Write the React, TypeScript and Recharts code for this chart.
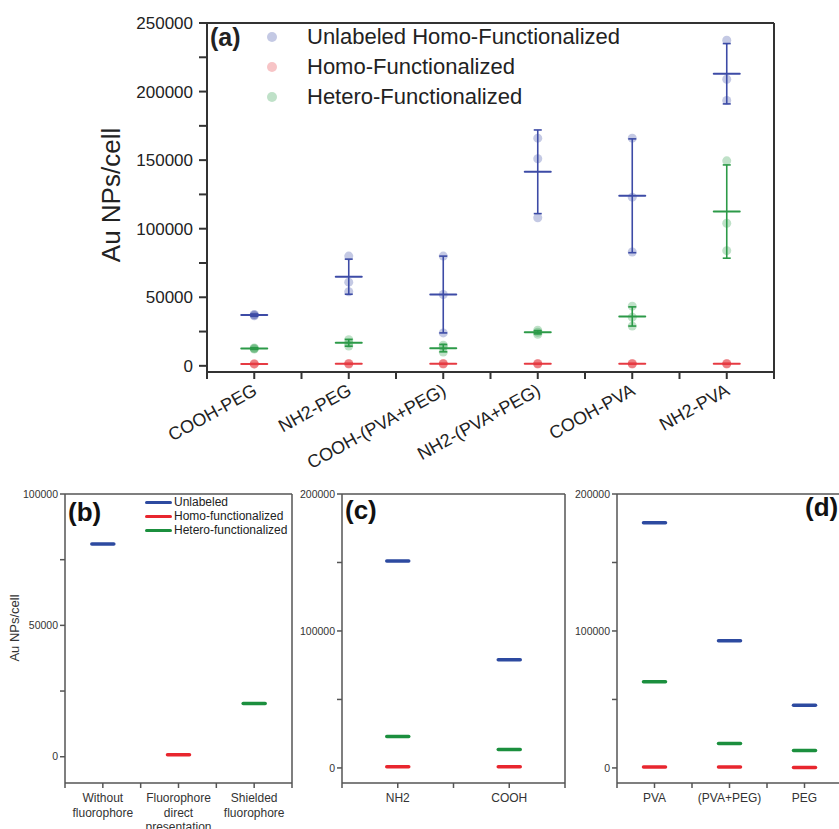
import React from "react";
import { ComposedChart, Scatter, XAxis, YAxis, ErrorBar, ReferenceLine } from "recharts";

const FONT = "'Liberation Sans', Arial, Helvetica, sans-serif";

// ── (a) uptake per coating: mean ± SD plus replicates ─────────
const coatings = ["COOH-PEG", "NH2-PEG", "COOH-(PVA+PEG)", "NH2-(PVA+PEG)", "COOH-PVA", "NH2-PVA"];

const unlabeledMean = [37000, 65000, 52000, 141500, 124000, 213000];
const unlabeledSd = [800, 12800, 28000, 30500, 41500, 22000];
const unlabeledReps = [
  [36500, 37000, 37500], [80000, 61000, 54000], [80000, 52000, 24000],
  [166000, 151000, 108000], [166000, 123000, 83000], [237500, 209000, 193500],
];

const homoMean = [1400, 1500, 1500, 1500, 1500, 1500];
const homoSd = [300, 300, 300, 300, 300, 300];
const homoReps = [
  [1200, 1400, 1600], [1300, 1500, 1700], [1300, 1500, 1700],
  [1300, 1500, 1700], [1300, 1500, 1700], [1300, 1500, 1700],
];

const heteroMean = [12600, 16800, 12900, 24500, 36000, 112500];
const heteroSd = [600, 2500, 2700, 1200, 7000, 34000];
const heteroReps = [
  [12200, 12600, 13000], [19000, 16500, 14500], [15000, 13500, 10000],
  [26000, 24500, 23000], [43500, 35500, 29000], [149500, 104000, 84000],
];

const yTicksA = [0, 25000, 50000, 75000, 100000, 125000, 150000, 175000, 200000, 225000, 250000];

// ── (b) fluorophore presentation ──────────────────────────────
const fluoroCats = [["Without", "fluorophore"], ["Fluorophore", "direct", "presentation"], ["Shielded", "fluorophore"]];
const fluoroUnlabeled = [81000, null, null];
const fluoroHomo = [null, 800, null];
const fluoroHetero = [null, null, 20300];

// ── (c) surface chemistry ─────────────────────────────────────
const chemCats = [["NH2"], ["COOH"]];
const chemUnlabeled = [151000, 79000];
const chemHomo = [900, 900];
const chemHetero = [23000, 13500];

// ── (d) polymer ───────────────────────────────────────────────
const polyCats = [["PVA"], ["(PVA+PEG)"], ["PEG"]];
const polyUnlabeled = [179000, 92800, 45700];
const polyHomo = [700, 600, 300];
const polyHetero = [62900, 17800, 12700];

const BLUE = "#3d4ba6";
const RED = "#e63a42";
const GREEN = "#2c9a48";
const BLUE2 = "#2d4aa0";
const RED2 = "#e8262e";
const GREEN2 = "#1b8f3e";

type Pt = { x: number; y: number; err?: number };

const toMeans = (mean: number[], sd: number[]): Pt[] => mean.map((y, i) => ({ x: i, y, err: sd[i] }));
const toReps = (reps: number[][]): Pt[] => reps.flatMap((vals, i) => vals.map((y) => ({ x: i, y })));
const toSingle = (vals: (number | null)[]): Pt[] =>
  vals.flatMap((y, i) => (y == null ? [] : [{ x: i, y }]));

const halfSteps = (n: number) => Array.from({ length: 2 * n + 1 }, (_, k) => -0.5 + k * 0.5);

const meanLine = (color: string, half: number, w: number) => (p: any) => (
  <line x1={p.cx - half} x2={p.cx + half} y1={p.cy} y2={p.cy} stroke={color} strokeWidth={w} strokeLinecap="round" />
);
const repDot = (color: string) => (p: any) => (
  <circle cx={p.cx} cy={p.cy} r={4.5} fill={color} fillOpacity={0.3} />
);

const CoatingTick = (p: any) => {
  const v = p.payload.value;
  if (!Number.isInteger(v)) return <g />;
  const x = p.x + 4;
  const y = p.y + 13;
  return (
    <text x={x} y={y} transform={`rotate(-29 ${x} ${y})`} textAnchor="end" fontSize={18} fill="#222" fontFamily={FONT}>
      {coatings[v]}
    </text>
  );
};

const stackedTick = (labels: string[][]) => (p: any) => {
  const v = p.payload.value;
  if (!Number.isInteger(v)) return <g />;
  return (
    <text x={p.x} y={p.y} textAnchor="middle" fontSize={12} fill="#333" fontFamily={FONT}>
      {labels[v].map((l, k) => (
        <tspan key={k} x={p.x} dy={k === 0 ? 12 : 14.5}>{l}</tspan>
      ))}
    </text>
  );
};

const abs = (left: number, top: number): React.CSSProperties => ({ position: "absolute", left, top });

function PanelA() {
  const axis = { stroke: "#333", strokeWidth: 2 };
  return (
    <div style={abs(0, 0)}>
      <ComposedChart width={839} height={480} margin={{ top: 23, right: 65, bottom: 78, left: 0 }}>
        <XAxis
          type="number" dataKey="x" domain={[-0.5, 5.5]} ticks={halfSteps(6)} interval={0}
          height={30} axisLine={axis} tickLine={axis} tickSize={7} tickMargin={2} tick={CoatingTick}
        />
        <YAxis
          type="number" dataKey="y" domain={[-4500, 250000]} ticks={yTicksA} interval={0} width={207}
          axisLine={axis} tickLine={axis} tickSize={8} tickMargin={6}
          tick={{ fill: "#222", fontSize: 17, fontFamily: FONT }}
          tickFormatter={(v: number) => (v % 50000 === 0 ? String(v) : "")}
        />
        <ReferenceLine y={250000} stroke="#333" strokeWidth={2} />
        <ReferenceLine x={5.5} stroke="#333" strokeWidth={2} />
        <Scatter data={toReps(unlabeledReps)} shape={repDot(BLUE)} isAnimationActive={false} />
        <Scatter data={toReps(heteroReps)} shape={repDot(GREEN)} isAnimationActive={false} />
        <Scatter data={toReps(homoReps)} shape={repDot(RED)} isAnimationActive={false} />
        <Scatter data={toMeans(unlabeledMean, unlabeledSd)} shape={meanLine(BLUE, 13, 2)} isAnimationActive={false}>
          <ErrorBar dataKey="err" direction="y" width={4} stroke={BLUE} strokeWidth={1.6} isAnimationActive={false} />
        </Scatter>
        <Scatter data={toMeans(heteroMean, heteroSd)} shape={meanLine(GREEN, 13, 2)} isAnimationActive={false}>
          <ErrorBar dataKey="err" direction="y" width={4} stroke={GREEN} strokeWidth={1.6} isAnimationActive={false} />
        </Scatter>
        <Scatter data={toMeans(homoMean, homoSd)} shape={meanLine(RED, 13, 2)} isAnimationActive={false}>
          <ErrorBar dataKey="err" direction="y" width={4} stroke={RED} strokeWidth={1.6} isAnimationActive={false} />
        </Scatter>
      </ComposedChart>
      <div style={{ ...abs(111, 195), transform: "translate(-50%, -50%) rotate(-90deg)", fontSize: 26, lineHeight: 1, whiteSpace: "nowrap", color: "#222", fontFamily: FONT }}>
        Au NPs/cell
      </div>
      <div style={{ ...abs(210, 25), fontSize: 25, fontWeight: 700, lineHeight: 1, color: "#222", fontFamily: FONT }}>(a)</div>
      {[
        ["Unlabeled Homo-Functionalized", BLUE],
        ["Homo-Functionalized", RED],
        ["Hetero-Functionalized", GREEN],
      ].map(([label, color], i) => (
        <React.Fragment key={label}>
          <div style={{ ...abs(267, 31.5 + i * 30), width: 10, height: 10, borderRadius: 5, background: color, opacity: 0.3 }} />
          <div style={{ ...abs(307, 23.5 + i * 30), fontSize: 22, lineHeight: "26px", whiteSpace: "nowrap", color: "#222", fontFamily: FONT }}>
            {label}
          </div>
        </React.Fragment>
      ))}
    </div>
  );
}

type SmallProps = {
  left: number; width: number; yWidth: number; right: number;
  cats: string[][]; domain: [number, number]; yTicks: number[]; major: number;
  unlabeled: (number | null)[]; homo: (number | null)[]; hetero: (number | null)[];
};

function SmallPanel(props: SmallProps) {
  const axis = { stroke: "#555", strokeWidth: 1.5 };
  const n = props.cats.length;
  return (
    <div style={abs(props.left, 480)}>
      <ComposedChart width={props.width} height={349} margin={{ top: 14, right: props.right, bottom: 16, left: 0 }}>
        <XAxis
          type="number" dataKey="x" domain={[-0.5, n - 0.5]} ticks={halfSteps(n)} interval={0}
          height={30} axisLine={axis} tickLine={axis} tickSize={5} tickMargin={2} tick={stackedTick(props.cats)}
        />
        <YAxis
          type="number" dataKey="y" domain={props.domain} ticks={props.yTicks} interval={0} width={props.yWidth}
          axisLine={axis} tickLine={axis} tickSize={5} tickMargin={2}
          tick={{ fill: "#333", fontSize: 10.5, fontFamily: FONT }}
          tickFormatter={(v: number) => (v % props.major === 0 ? String(v) : "")}
        />
        <ReferenceLine y={props.domain[1]} stroke="#555" strokeWidth={1.5} />
        <ReferenceLine x={n - 0.5} stroke="#555" strokeWidth={1.5} />
        <Scatter data={toSingle(props.unlabeled)} shape={meanLine(BLUE2, 11, 3.5)} isAnimationActive={false} />
        <Scatter data={toSingle(props.homo)} shape={meanLine(RED2, 11, 3.5)} isAnimationActive={false} />
        <Scatter data={toSingle(props.hetero)} shape={meanLine(GREEN2, 11, 3.5)} isAnimationActive={false} />
      </ComposedChart>
    </div>
  );
}

export default function App() {
  const label = (text: string, left: number, top: number) => (
    <div style={{ ...abs(left, top), fontSize: 26, fontWeight: 700, lineHeight: 1, color: "#111", fontFamily: FONT }}>{text}</div>
  );
  return (
    <div style={{ position: "absolute", left: 0, top: 0, width: 839, height: 829, overflow: "hidden", background: "#fff" }}>
      <PanelA />
      <SmallPanel
        left={0} width={300} yWidth={65} right={8} cats={fluoroCats}
        domain={[-10000, 100000]} yTicks={[0, 25000, 50000, 75000, 100000]} major={50000}
        unlabeled={fluoroUnlabeled} homo={fluoroHomo} hetero={fluoroHetero}
      />
      <SmallPanel
        left={290} width={290} yWidth={52} right={15} cats={chemCats}
        domain={[-11000, 200000]} yTicks={[0, 50000, 100000, 150000, 200000]} major={100000}
        unlabeled={chemUnlabeled} homo={chemHomo} hetero={chemHetero}
      />
      <SmallPanel
        left={560} width={290} yWidth={57} right={8} cats={polyCats}
        domain={[-11000, 200000]} yTicks={[0, 50000, 100000, 150000, 200000]} major={100000}
        unlabeled={polyUnlabeled} homo={polyHomo} hetero={polyHetero}
      />
      <div style={{ ...abs(14, 628), transform: "translate(-50%, -50%) rotate(-90deg)", fontSize: 13, lineHeight: 1, whiteSpace: "nowrap", color: "#333", fontFamily: FONT }}>
        Au NPs/cell
      </div>
      {[
        ["Unlabeled", BLUE2],
        ["Homo-functionalized", RED2],
        ["Hetero-functionalized", GREEN2],
      ].map(([text, color], i) => (
        <React.Fragment key={text}>
          <div style={{ ...abs(145, 500.5 + i * 14), width: 27, height: 3, borderRadius: 1.5, background: color }} />
          <div style={{ ...abs(174, 495 + i * 14), fontSize: 12, lineHeight: "14px", whiteSpace: "nowrap", color: "#222", fontFamily: FONT }}>
            {text}
          </div>
        </React.Fragment>
      ))}
      {label("(b)", 68, 499)}
      {label("(c)", 345, 497)}
      {label("(d)", 805, 494)}
    </div>
  );
}
